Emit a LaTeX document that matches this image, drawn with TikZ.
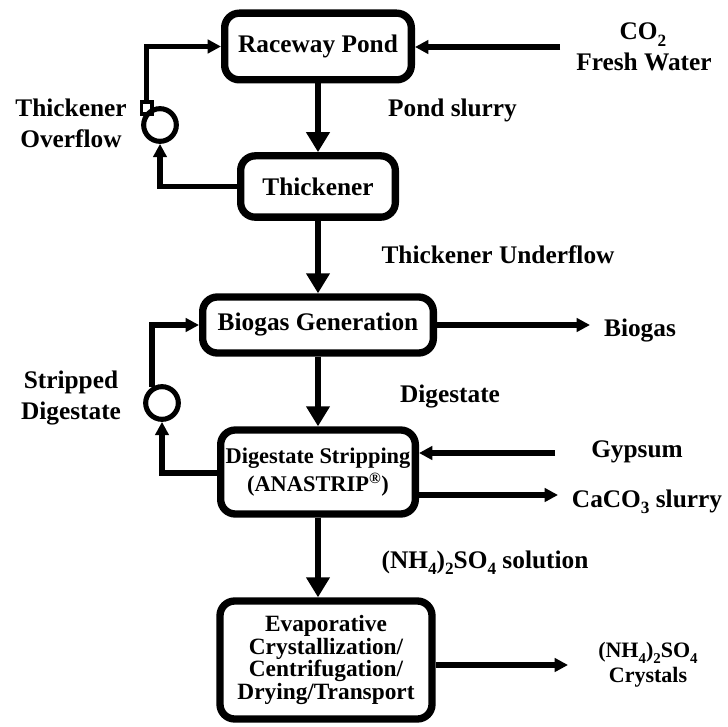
\documentclass[tikz,border=0pt]{standalone}
\usepackage{fontspec}
\setmainfont{Liberation Serif}
\usetikzlibrary{arrows.meta}
\newcommand{\chs}[1]{\raisebox{-0.25em}{\scalebox{0.68}{#1}}}

\begin{document}
\begin{tikzpicture}[x=0.75pt, y=-0.75pt, font=\bfseries\fontsize{19}{23}\selectfont]
  \tikzstyle{unit}=[draw, rounded corners=11pt, line width=5.5pt, inner sep=0pt, align=center]
  \tikzstyle{pump}=[circle, draw, line width=3.8pt, minimum size=24.5pt, inner sep=0pt]
  \tikzstyle{nozzle}=[rectangle, draw, line width=2.5pt, minimum width=8pt, minimum height=9pt, inner sep=0pt]
  \tikzstyle{main}=[line width=4.5pt, -{Triangle[length=15pt,width=17pt]}]
  \tikzstyle{feed}=[line width=4pt, -{Triangle[length=10pt,width=10pt]}]
  \tikzstyle{stream}=[anchor=base, inner sep=0pt]
  \useasboundingbox (0,0) rectangle (728,727);
  % process units
  \node[unit, minimum width=140pt, minimum height=50pt] (RP) at (318,46.5) {Raceway Pond};
  \node[unit, minimum width=116pt, minimum height=46pt] (TH) at (318,186.5) {Thickener};
  \node[unit, minimum width=173pt, minimum height=42pt] (BG) at (318,325) {Biogas Generation};
  \node[unit, minimum width=146pt, minimum height=63pt,
        font=\bfseries\fontsize{16.8}{21}\selectfont] (DS) at (318,472)
        {Digestate Stripping\\(ANASTRIP\textsuperscript{®})};
  \node[unit, minimum width=159pt, minimum height=88.5pt,
        font=\bfseries\fontsize{17.5}{17}\selectfont] (EV) at (326,660)
        {Evaporative\\Crystallization/\\Centrifugation/\\Drying/Transport};
  % pumps
  \node[pump] (P_1) at (160,125) {};
  \node[nozzle] (N_1) at (146.5,108) {};
  \node[pump] (P_2) at (162,403) {};
  % free ends
  \coordinate (CO2_in) at (560,47);
  \coordinate (BG_out) at (590,325);
  \coordinate (GY_in) at (555,453);
  \coordinate (CC_out) at (558,495);
  \coordinate (CR_out) at (568,665);
  % main line
  \draw[main] (RP.south) -- (TH.north);
  \draw[main] (TH.south) -- (BG.north);
  \draw[main] (BG.south) -- (DS.north);
  \draw[main] (DS.south) -- (DS.south |- EV.north);
  % recycles
  \draw[feed] (TH.west) -| (P_1.south);
  \draw[feed] (N_1.north) |- (RP.west);
  \draw[feed] (DS.west |- 0,473) -| (P_2.south);
  \draw[feed] (P_2.122) |- (BG.west);
  % streams in and out
  \draw[feed] (CO2_in) -- (RP.east |- CO2_in);
  \draw[feed] (BG.east) -- (BG_out);
  \draw[feed] (GY_in) -- (DS.east |- GY_in);
  \draw[feed] (DS.east |- CC_out) -- (CC_out);
  \draw[feed] (EV.east |- CR_out) -- (CR_out);
  % stream labels
  \node[stream] (co2) at (643,40) {CO\chs{2}};
  \node[stream] (water) at (644,71) {Fresh Water};
  \node[stream] (slurry) at (452.5,117) {Pond slurry};
  \node[stream] (over_1) at (71,117) {Thickener};
  \node[stream] (over_2) at (71,148) {Overflow};
  \node[stream] (under) at (498,264) {Thickener Underflow};
  \node[stream] (biogas) at (640,336) {Biogas};
  \node[stream] (strip_1) at (71,388) {Stripped};
  \node[stream] (strip_2) at (71,419) {Digestate};
  \node[stream] (digest) at (450,402) {Digestate};
  \node[stream] (gypsum) at (637,457) {Gypsum};
  \node[stream] (caco3) at (647,507) {CaCO\chs{3} slurry};
  \node[stream] (sol) at (485,568) {(NH\chs{4})\chs{2}SO\chs{4} solution};
  \node[align=center, inner sep=0pt, font=\bfseries\fontsize{16.5}{18.5}\selectfont] (cryst) at (648,665)
        {(NH\chs{4})\chs{2}SO\chs{4}\\Crystals};
\end{tikzpicture}
\end{document}
